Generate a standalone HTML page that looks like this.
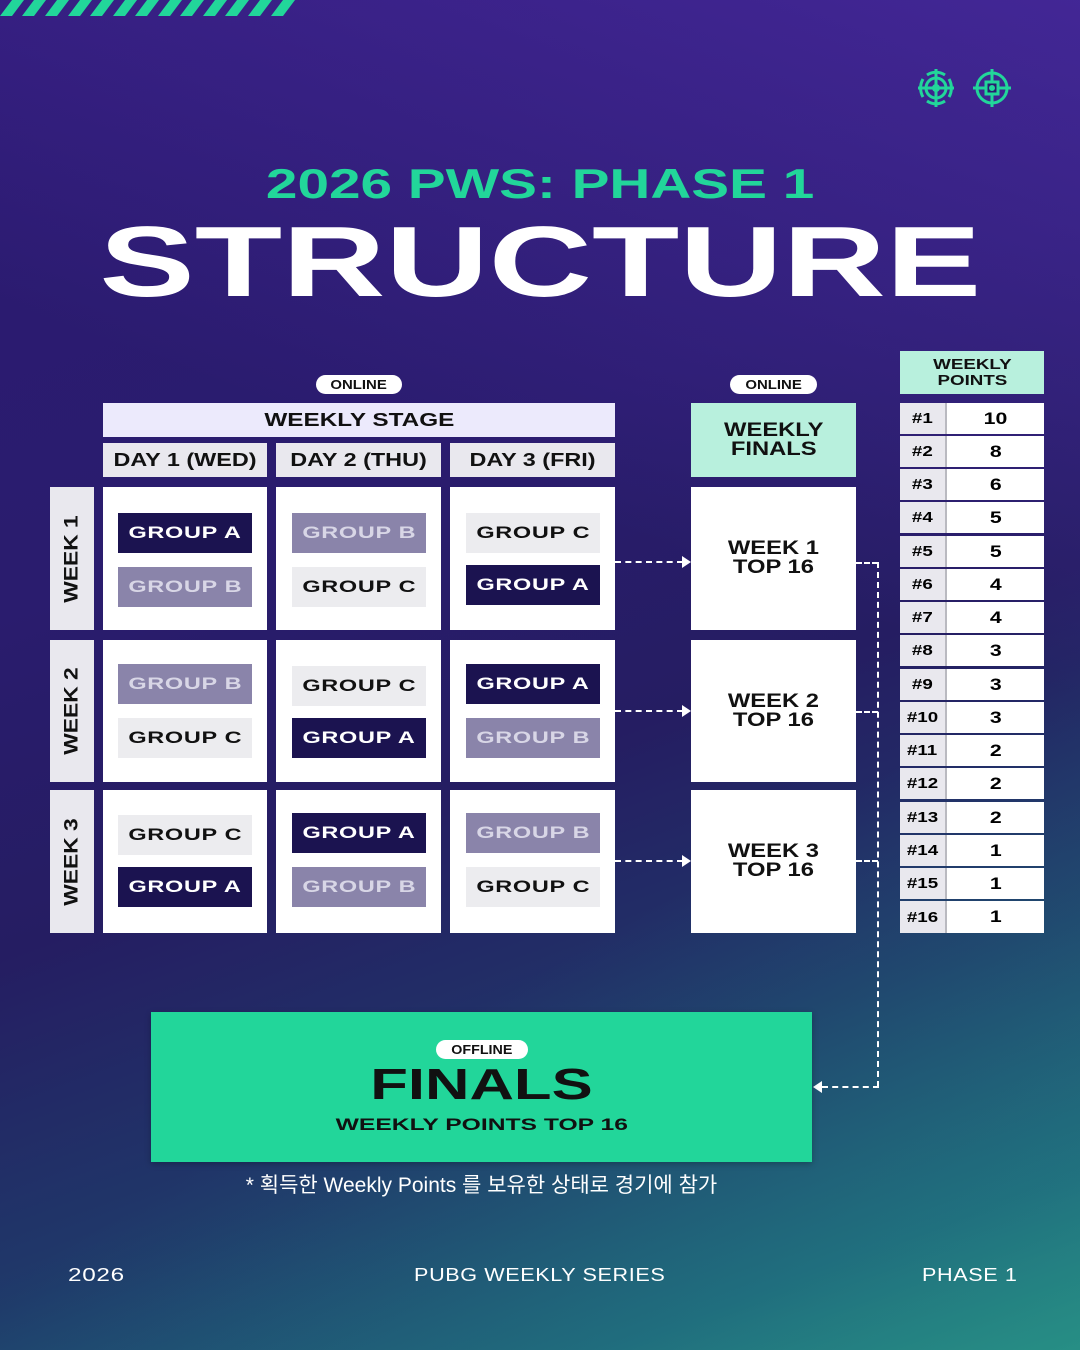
<!DOCTYPE html>
<html><head><meta charset="utf-8"><style>
*{margin:0;padding:0;box-sizing:border-box}
body{width:1080px;height:1350px;overflow:hidden;position:relative;font-family:"Liberation Sans","Noto Sans CJK KR",sans-serif;
background:linear-gradient(160deg,#2c1a72 0%,#2a1c6e 35%,#251d62 55%,#1f3a6a 75%,#1d5a78 90%,#26807f 100%);}
.bg2{position:absolute;inset:0;background:linear-gradient(200deg,rgba(110,60,220,.35) 0%,rgba(0,0,0,0) 40%),linear-gradient(330deg,rgba(40,160,140,.45) 0%,rgba(0,0,0,0) 35%)}
.a{position:absolute}
.c{display:flex;align-items:center;justify-content:center;text-align:center;font-weight:900;color:#111}
.w{display:inline-block;transform:scaleX(1.25);white-space:nowrap}
.pill{position:absolute;height:40px;width:134px;display:flex;align-items:center;justify-content:center;font-weight:900;font-size:17px;letter-spacing:.5px}
.pill .w{transform:scaleX(1.38)}
.pA{background:#1b1350;color:#fff}.pB{background:#8a84aa;color:#d8d6e6}.pC{background:#ececef;color:#111}
.cell{position:absolute;background:#fff}
.day{position:absolute;top:443px;height:34px;background:#e9e8ee;font-size:18px}
.wk{position:absolute;left:50px;width:44px;background:#e9e8ee}
.wk span{display:block;transform:rotate(-90deg) scaleX(1.2);font-weight:900;font-size:19px;white-space:nowrap;color:#111}
.on{position:absolute;top:375px;height:19px;background:#fff;border-radius:10px;font-size:13px;font-weight:900;color:#111;display:flex;align-items:center;justify-content:center}
.row{position:absolute;left:900px;width:144px;height:31px;display:flex}
.row .l{width:47px;background:#e9e8ee;font-size:15px;font-weight:900;display:flex;align-items:center;justify-content:center;border-right:2px solid #b9b9c0}
.row .r{flex:1;background:#fff;font-size:17px;font-weight:700;display:flex;align-items:center;justify-content:center}
.row span{display:inline-block;transform:scaleX(1.25)}
.dh{position:absolute;border-top:2px dashed #fff;height:0}
.dv{position:absolute;border-left:2px dashed #fff;width:0}
.foot{position:absolute;top:1265px;color:#fff;font-size:18px;letter-spacing:.5px;white-space:nowrap}
.foot span{display:inline-block;transform:scaleX(1.2)}
</style></head><body>
<div class="bg2"></div>
<svg class="a" style="left:0;top:0" width="300" height="16"><g fill="#22d69a">
<polygon points="0,16 12,0 24,0 12,16"/><polygon points="22,16 34,0 46,0 34,16"/><polygon points="45,16 57,0 69,0 57,16"/><polygon points="68,16 80,0 92,0 80,16"/><polygon points="90,16 102,0 114,0 102,16"/><polygon points="113,16 125,0 137,0 125,16"/><polygon points="135,16 147,0 159,0 147,16"/><polygon points="158,16 170,0 182,0 170,16"/><polygon points="180,16 192,0 204,0 192,16"/><polygon points="203,16 215,0 227,0 215,16"/><polygon points="225,16 237,0 249,0 237,16"/><polygon points="248,16 260,0 272,0 260,16"/><polygon points="271,16 283,0 295,0 283,16"/></g></svg>
<svg class="a" style="left:912px;top:65px" width="110" height="50" fill="none" stroke="#22d69a" stroke-width="3">
<circle cx="24" cy="23" r="10"/><circle cx="24" cy="23" r="2.5"/><path d="M24 4v38M6 23h36"/><path d="M11 14a18 18 0 0 0 0 18M37 14a18 18 0 0 1 0 18M15 10a16 16 0 0 1 18 0M15 36a16 16 0 0 0 18 0"/>
<circle cx="80" cy="23" r="15"/><path d="M80 4v38M61 23h38"/><rect x="74" y="17" width="12" height="12" fill="#2a1c6e"/><circle cx="80" cy="23" r="1.5" fill="#22d69a"/>
</svg>
<div class="a c" style="left:0;width:1080px;top:162px;height:44px;color:#22d69a;font-size:42px"><span class="w" style="transform:scaleX(1.35)">2026 PWS: PHASE 1</span></div>
<div class="a c" style="left:0;width:1080px;top:212px;height:100px;color:#fff;font-size:100px"><span class="w" style="transform:scaleX(1.43)">STRUCTURE</span></div>

<div class="on" style="left:316px;width:86px"><span class="w" style="transform:scaleX(1.15)">ONLINE</span></div>
<div class="on" style="left:730px;width:87px"><span class="w" style="transform:scaleX(1.15)">ONLINE</span></div>
<div class="a c" style="left:103px;top:403px;width:512px;height:34px;background:#eceafc;font-size:18px"><span class="w" style="transform:scaleX(1.35)">WEEKLY STAGE</span></div>
<div class="day c" style="left:103px;width:164px"><span class="w" style="transform:scaleX(1.3)">DAY 1 (WED)</span></div>
<div class="day c" style="left:276px;width:165px"><span class="w" style="transform:scaleX(1.3)">DAY 2 (THU)</span></div>
<div class="day c" style="left:450px;width:165px"><span class="w" style="transform:scaleX(1.3)">DAY 3 (FRI)</span></div>
<div class="a c" style="left:691px;top:403px;width:165px;height:74px;background:#b8f0dd;font-size:19px;line-height:19px"><span class="w">WEEKLY<br>FINALS</span></div>
<div class="a c" style="left:900px;top:351px;width:144px;height:43px;background:#b8f0dd;font-size:15px;line-height:16px"><span class="w">WEEKLY<br>POINTS</span></div>

<div class="wk c" style="top:487px;height:143px"><span>WEEK 1</span></div>
<div class="wk c" style="top:640px;height:142px"><span>WEEK 2</span></div>
<div class="wk c" style="top:790px;height:143px"><span>WEEK 3</span></div>

<div class="cell" style="left:103px;top:487px;width:164px;height:143px"></div>
<div class="cell" style="left:276px;top:487px;width:165px;height:143px"></div>
<div class="cell" style="left:450px;top:487px;width:165px;height:143px"></div>
<div class="cell" style="left:103px;top:640px;width:164px;height:142px"></div>
<div class="cell" style="left:276px;top:640px;width:165px;height:142px"></div>
<div class="cell" style="left:450px;top:640px;width:165px;height:142px"></div>
<div class="cell" style="left:103px;top:790px;width:164px;height:143px"></div>
<div class="cell" style="left:276px;top:790px;width:165px;height:143px"></div>
<div class="cell" style="left:450px;top:790px;width:165px;height:143px"></div>

<div class="pill pA" style="left:118px;top:513px"><span class="w">GROUP A</span></div>
<div class="pill pB" style="left:118px;top:567px"><span class="w">GROUP B</span></div>
<div class="pill pB" style="left:292px;top:513px"><span class="w">GROUP B</span></div>
<div class="pill pC" style="left:292px;top:567px"><span class="w">GROUP C</span></div>
<div class="pill pC" style="left:466px;top:513px"><span class="w">GROUP C</span></div>
<div class="pill pA" style="left:466px;top:565px"><span class="w">GROUP A</span></div>

<div class="pill pB" style="left:118px;top:664px"><span class="w">GROUP B</span></div>
<div class="pill pC" style="left:118px;top:718px"><span class="w">GROUP C</span></div>
<div class="pill pC" style="left:292px;top:666px"><span class="w">GROUP C</span></div>
<div class="pill pA" style="left:292px;top:718px"><span class="w">GROUP A</span></div>
<div class="pill pA" style="left:466px;top:664px"><span class="w">GROUP A</span></div>
<div class="pill pB" style="left:466px;top:718px"><span class="w">GROUP B</span></div>

<div class="pill pC" style="left:118px;top:815px"><span class="w">GROUP C</span></div>
<div class="pill pA" style="left:118px;top:867px"><span class="w">GROUP A</span></div>
<div class="pill pA" style="left:292px;top:813px"><span class="w">GROUP A</span></div>
<div class="pill pB" style="left:292px;top:867px"><span class="w">GROUP B</span></div>
<div class="pill pB" style="left:466px;top:813px"><span class="w">GROUP B</span></div>
<div class="pill pC" style="left:466px;top:867px"><span class="w">GROUP C</span></div>

<div class="cell c" style="left:691px;top:487px;width:165px;height:143px;align-items:flex-start;padding-top:52px;font-size:19px;line-height:19px"><span class="w">WEEK 1<br>TOP 16</span></div>
<div class="cell c" style="left:691px;top:640px;width:165px;height:142px;align-items:flex-start;padding-top:52px;font-size:19px;line-height:19px"><span class="w">WEEK 2<br>TOP 16</span></div>
<div class="cell c" style="left:691px;top:790px;width:165px;height:143px;align-items:flex-start;padding-top:52px;font-size:19px;line-height:19px"><span class="w">WEEK 3<br>TOP 16</span></div>

<div class="dh" style="left:615px;top:561px;width:68px"></div>
<div class="dh" style="left:615px;top:710px;width:68px"></div>
<div class="dh" style="left:615px;top:860px;width:68px"></div>
<svg class="a" style="left:0;top:0" width="1080" height="1350" fill="#fff">
<polygon points="682,556 691,562 682,568"/><polygon points="682,705 691,711 682,717"/><polygon points="682,855 691,861 682,867"/>
<polygon points="822,1081 813,1087 822,1093"/></svg>
<div class="dh" style="left:856px;top:562px;width:22px"></div>
<div class="dh" style="left:856px;top:711px;width:22px"></div>
<div class="dh" style="left:856px;top:860px;width:22px"></div>
<div class="dv" style="left:877px;top:562px;height:525px"></div>
<div class="dh" style="left:822px;top:1086px;width:57px"></div>

<div class="row" style="top:403px"><div class="l"><span>#1</span></div><div class="r"><span>10</span></div></div>
<div class="row" style="top:436px"><div class="l"><span>#2</span></div><div class="r"><span>8</span></div></div>
<div class="row" style="top:469px"><div class="l"><span>#3</span></div><div class="r"><span>6</span></div></div>
<div class="row" style="top:502px"><div class="l"><span>#4</span></div><div class="r"><span>5</span></div></div>
<div class="row" style="top:536px"><div class="l"><span>#5</span></div><div class="r"><span>5</span></div></div>
<div class="row" style="top:569px"><div class="l"><span>#6</span></div><div class="r"><span>4</span></div></div>
<div class="row" style="top:602px"><div class="l"><span>#7</span></div><div class="r"><span>4</span></div></div>
<div class="row" style="top:635px"><div class="l"><span>#8</span></div><div class="r"><span>3</span></div></div>
<div class="row" style="top:669px"><div class="l"><span>#9</span></div><div class="r"><span>3</span></div></div>
<div class="row" style="top:702px"><div class="l"><span>#10</span></div><div class="r"><span>3</span></div></div>
<div class="row" style="top:735px"><div class="l"><span>#11</span></div><div class="r"><span>2</span></div></div>
<div class="row" style="top:768px"><div class="l"><span>#12</span></div><div class="r"><span>2</span></div></div>
<div class="row" style="top:802px"><div class="l"><span>#13</span></div><div class="r"><span>2</span></div></div>
<div class="row" style="top:835px"><div class="l"><span>#14</span></div><div class="r"><span>1</span></div></div>
<div class="row" style="top:868px"><div class="l"><span>#15</span></div><div class="r"><span>1</span></div></div>
<div class="row" style="top:901px;height:32px"><div class="l"><span>#16</span></div><div class="r"><span>1</span></div></div>

<div class="a" style="left:151px;top:1012px;width:661px;height:150px;background:#22d69a;box-shadow:0 2px 6px rgba(0,0,0,.25)"></div>
<div class="on" style="left:436px;top:1040px;width:92px;height:19px;font-size:13px"><span class="w" style="transform:scaleX(1.1)">OFFLINE</span></div>
<div class="a c" style="left:151px;top:1062px;width:661px;height:46px;font-size:44px"><span class="w" style="transform:scaleX(1.4)">FINALS</span></div>
<div class="a c" style="left:151px;top:1114px;width:661px;height:22px;font-size:17px"><span class="w" style="transform:scaleX(1.45)">WEEKLY POINTS TOP 16</span></div>
<div class="a c" style="left:151px;top:1171px;width:661px;height:26px;font-size:21px;color:#fff;font-weight:400"><span style="display:inline-block;transform:scaleX(1.0);white-space:nowrap">* 획득한 Weekly Points 를 보유한 상태로 경기에 참가</span></div>
<div class="foot" style="left:68px"><span style="transform-origin:left;transform:scaleX(1.35)">2026</span></div>
<div class="foot" style="left:0;width:1080px;text-align:center"><span>PUBG WEEKLY SERIES</span></div>
<div class="foot" style="left:922px"><span style="transform-origin:left;transform:scaleX(1.2)">PHASE 1</span></div>
</body></html>
